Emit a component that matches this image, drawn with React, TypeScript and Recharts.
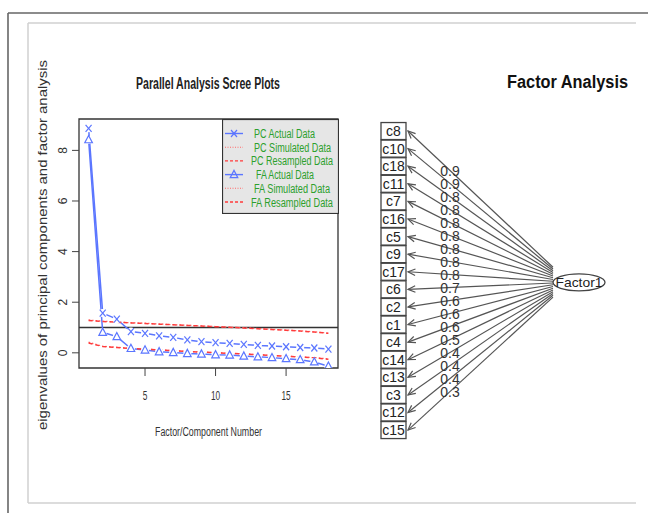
import React from 'react';
import {
  ComposedChart,
  Line,
  XAxis,
  YAxis,
  ReferenceLine,
  ReferenceArea,
  Legend,
  Scatter,
} from 'recharts';

// ---------- Scree plot data ----------
const factorNumbers = [1, 2, 3, 4, 5, 6, 7, 8, 9, 10, 11, 12, 13, 14, 15, 16, 17, 18];
const pcActual = [8.87, 1.57, 1.33, 0.84, 0.77, 0.67, 0.61, 0.51, 0.44, 0.4, 0.37, 0.33, 0.29, 0.27, 0.24, 0.21, 0.19, 0.15];
const pcSimulated = [1.3, 1.25, 1.22, 1.19, 1.17, 1.14, 1.11, 1.09, 1.06, 1.04, 1.01, 0.99, 0.96, 0.93, 0.9, 0.87, 0.83, 0.78];
const pcResampled = [1.28, 1.24, 1.21, 1.18, 1.16, 1.13, 1.11, 1.08, 1.06, 1.03, 1.01, 0.98, 0.95, 0.92, 0.89, 0.86, 0.82, 0.77];
const faActual = [8.42, 0.81, 0.64, 0.17, 0.11, 0.04, 0.01, -0.03, -0.05, -0.08, -0.09, -0.13, -0.16, -0.19, -0.23, -0.27, -0.36, -0.53];
const faSimulated = [0.42, 0.26, 0.22, 0.18, 0.15, 0.12, 0.09, 0.06, 0.03, 0.01, -0.02, -0.04, -0.07, -0.1, -0.13, -0.16, -0.19, -0.24];
const faResampled = [0.39, 0.25, 0.21, 0.17, 0.14, 0.11, 0.08, 0.05, 0.03, 0.0, -0.02, -0.05, -0.08, -0.11, -0.14, -0.17, -0.2, -0.25];
const xTicks = [5, 10, 15];
const yTicks = [0, 2, 4, 6, 8];
const legendLabels = [
  'PC  Actual Data',
  'PC  Simulated Data',
  'PC  Resampled Data',
  'FA  Actual Data',
  'FA  Simulated Data',
  'FA  Resampled Data',
];

// ---------- Factor diagram data ----------
const variables = ['c8', 'c10', 'c18', 'c11', 'c7', 'c16', 'c5', 'c9', 'c17', 'c6', 'c2', 'c1', 'c4', 'c14', 'c13', 'c3', 'c12', 'c15'];
const loadings = [0.9, 0.9, 0.8, 0.8, 0.8, 0.8, 0.8, 0.8, 0.8, 0.7, 0.6, 0.6, 0.6, 0.5, 0.4, 0.4, 0.4, 0.3];
const factorName = 'Factor1';

// ---------- styling / layout constants ----------
const BLUE = '#5b76ff';
const RED = '#ff3b3b';
const RED_DOT = '#ff6a6a';
const GREEN = '#2ca02c';
const FONT = '"Liberation Sans", Arial, Helvetica, sans-serif';

// diagram layout (diagram units)
const BOX_X = 33.5;
const BOX_TIP_X = 48;
const FACTOR_X = 219;
const FACTOR_EDGE_X = 193;
const FACTOR_Y = 8.6;
const FAN = 0.1;
const LABEL_T = 0.29;

const XTick = (props: any) => {
  const { x, y, payload } = props;
  const s = String(payload.value);
  return (
    <text x={x} y={y + 22} textAnchor="middle" fontSize={13.5} fill="#333" fontFamily={FONT}
      textLength={s.length * 4.6} lengthAdjust="spacingAndGlyphs">
      {s}
    </text>
  );
};

const YTick = (props: any) => {
  const { x, y, payload } = props;
  const tx = x - 3;
  return (
    <text x={tx} y={y} textAnchor="middle" fontSize={12} fill="#333" fontFamily={FONT}
      transform={`rotate(-90 ${tx} ${y})`}>
      {String(payload.value)}
    </text>
  );
};

const CrossMark = ({ cx, cy, color }: any) => (
  <g>
    <line x1={cx - 3} y1={cy - 3.5} x2={cx + 3} y2={cy + 3.5} stroke={color} strokeWidth={1.2} />
    <line x1={cx - 3} y1={cy + 3.5} x2={cx + 3} y2={cy - 3.5} stroke={color} strokeWidth={1.2} />
  </g>
);

const TriMark = ({ cx, cy, color }: any) => (
  <polygon points={`${cx},${cy - 4.2} ${cx - 3.8},${cy + 3} ${cx + 3.8},${cy + 3}`} fill="none" stroke={color} strokeWidth={1.2} />
);

const PcDot = (props: any) => {
  const { cx, cy, index } = props;
  if (cx == null || cy == null) return <g key={`pc-${index}`} />;
  return (
    <g key={`pc-${index}`}>
      <circle cx={cx} cy={cy} r={4} fill="#fff" stroke="none" />
      <CrossMark cx={cx} cy={cy} color={BLUE} />
    </g>
  );
};

const FaDot = (props: any) => {
  const { cx, cy, index } = props;
  if (cx == null || cy == null) return <g key={`fa-${index}`} />;
  return (
    <g key={`fa-${index}`}>
      <circle cx={cx} cy={cy} r={4} fill="#fff" stroke="none" />
      <TriMark cx={cx} cy={cy} color={BLUE} />
    </g>
  );
};

const legendStyles = [
  { color: BLUE, dash: undefined, mark: 'x', w: 1.4 },
  { color: RED_DOT, dash: '1 1.5', mark: null, w: 1.1 },
  { color: RED, dash: '3 2', mark: null, w: 1.3 },
  { color: BLUE, dash: undefined, mark: 't', w: 1.4 },
  { color: RED_DOT, dash: '1 1.5', mark: null, w: 1.1 },
  { color: RED, dash: '3 2', mark: null, w: 1.3 },
];
const legendTextX = [32, 32, 29, 34, 32, 29];
const legendTextW = [61, 77, 82, 58, 76, 82];

const LegendContent = () => (
  <svg width={117} height={95} style={{ display: 'block' }}>
    <rect x={0.5} y={0.5} width={116} height={94} fill="#e6e6e6" stroke="#333" strokeWidth={1.2} />
    {legendLabels.map((lab, i) => {
      const y = 14.5 + 13.7 * i;
      const st = legendStyles[i];
      return (
        <g key={lab}>
          <line x1={3} y1={y} x2={21} y2={y} stroke={st.color} strokeWidth={st.w} strokeDasharray={st.dash} />
          {st.mark === 'x' && <CrossMark cx={12} cy={y} color={st.color} />}
          {st.mark === 't' && <TriMark cx={12} cy={y} color={st.color} />}
          <text x={legendTextX[i]} y={y + 4.5} fontSize={12.5} fill={GREEN} fontFamily={FONT}
            textLength={legendTextW[i]} lengthAdjust="spacingAndGlyphs">
            {lab}
          </text>
        </g>
      );
    })}
  </svg>
);

const ArrowShape = (p: any) => {
  const { x1, y1, x2, y2 } = p;
  const ang = Math.atan2(y2 - y1, x2 - x1);
  const L = 8;
  const a = 0.42;
  const ax1 = x1 + L * Math.cos(ang + a);
  const ay1 = y1 + L * Math.sin(ang + a);
  const ax2 = x1 + L * Math.cos(ang - a);
  const ay2 = y1 + L * Math.sin(ang - a);
  return (
    <g>
      <line x1={x1} y1={y1} x2={x2} y2={y2} stroke="#555" strokeWidth={1.2} />
      <polyline points={`${ax1},${ay1} ${x1},${y1} ${ax2},${ay2}`} fill="none" stroke="#555" strokeWidth={1.2} />
    </g>
  );
};

const BoxShape = (p: any) => {
  const { cx, cy, payload } = p;
  return (
    <g>
      <rect x={cx - 12.5} y={cy - 8.5} width={25} height={17} fill="#fff" stroke="#444" strokeWidth={1.3} />
      <text x={cx} y={cy + 5} textAnchor="middle" fontSize={14} fill="#222" fontFamily={FONT}>
        {payload.name}
      </text>
    </g>
  );
};

const LabelShape = (p: any) => {
  const { cx, cy, payload } = p;
  return (
    <text x={cx} y={cy + 5} textAnchor="middle" fontSize={14} fill="#333" fontFamily={FONT}>
      {payload.label}
    </text>
  );
};

const FactorShape = (p: any) => {
  const { cx, cy, payload } = p;
  return (
    <g>
      <ellipse cx={cx} cy={cy} rx={26} ry={8.5} fill="#fff" stroke="#444" strokeWidth={1.3} />
      <text x={cx} y={cy + 5} textAnchor="middle" fontSize={13.5} fill="#222" fontFamily={FONT}
        textLength={47} lengthAdjust="spacingAndGlyphs">
        {payload.name}
      </text>
    </g>
  );
};

export default function App() {
  const rows = factorNumbers.map((n, i) => ({
    n,
    pcActual: pcActual[i],
    pcSimulated: pcSimulated[i],
    pcResampled: pcResampled[i],
    faActual: faActual[i],
    faSimulated: faSimulated[i],
    faResampled: faResampled[i],
  }));

  const boxes = variables.map((name, i) => ({ x: BOX_X, y: i, name }));
  const ends = variables.map((_, i) => FACTOR_Y + (i - FACTOR_Y) * FAN);
  const labels = variables.map((_, i) => ({
    x: BOX_TIP_X + LABEL_T * (FACTOR_EDGE_X - BOX_TIP_X),
    y: i + LABEL_T * (ends[i] - i),
    label: loadings[i].toFixed(1),
  }));
  const factor = [{ x: FACTOR_X, y: FACTOR_Y, name: factorName }];

  return (
    <div style={{ position: 'absolute', left: 0, top: 0, width: 648, height: 513, background: '#fff', fontFamily: FONT }}>
      <div style={{ position: 'absolute', left: 0, top: 0 }}>
        <ComposedChart width={360} height={470} data={rows} margin={{ top: 119, right: 22, bottom: 72, left: 39 }}>
          <XAxis dataKey="n" type="number" domain={[0.32, 18.68]} ticks={xTicks} allowDataOverflow
            axisLine={false} tickSize={8} tickLine={{ stroke: '#444' }} tick={XTick} height={30} />
          <YAxis type="number" domain={[-0.6, 9.24]} ticks={yTicks} allowDataOverflow
            axisLine={false} tickSize={7} tickLine={{ stroke: '#444' }} tick={YTick} width={40} />
          <ReferenceArea x1={0.32} x2={18.68} y1={-0.6} y2={9.24} fill="none" fillOpacity={0}
            stroke="#333" strokeWidth={1.3} ifOverflow="visible" />
          <ReferenceLine y={1} stroke="#333" strokeWidth={1.3} />
          <Line dataKey="pcActual" stroke={BLUE} strokeWidth={1.5} dot={PcDot} isAnimationActive={false} />
          <Line dataKey="faActual" stroke={BLUE} strokeWidth={1.5} dot={FaDot} isAnimationActive={false} />
          <Line dataKey="pcSimulated" stroke={RED_DOT} strokeWidth={1.2} strokeDasharray="1.5 2" dot={false} isAnimationActive={false} />
          <Line dataKey="pcResampled" stroke={RED} strokeWidth={1.5} strokeDasharray="4 3" dot={false} isAnimationActive={false} />
          <Line dataKey="faSimulated" stroke={RED_DOT} strokeWidth={1.2} strokeDasharray="1.5 2" dot={false} isAnimationActive={false} />
          <Line dataKey="faResampled" stroke={RED} strokeWidth={1.5} strokeDasharray="4 3" dot={false} isAnimationActive={false} />
          <Legend layout="vertical" align="center" verticalAlign="middle" content={LegendContent}
            wrapperStyle={{ left: 222, top: 119, width: 117, height: 95 }} />
        </ComposedChart>
      </div>

      <div style={{ position: 'absolute', left: 360, top: 0 }}>
        <ComposedChart width={288} height={470} margin={{ top: 0, right: 0, bottom: 0, left: 0 }}>
          <XAxis dataKey="x" type="number" domain={[0, 288]} allowDataOverflow hide />
          <YAxis type="number" domain={[-7.45, 19.27]} allowDataOverflow reversed hide />
          {variables.map((v, i) => (
            <ReferenceLine key={v}
              segment={[{ x: BOX_TIP_X, y: i }, { x: FACTOR_EDGE_X, y: ends[i] }]}
              shape={ArrowShape} ifOverflow="visible" />
          ))}
          <Scatter data={boxes} dataKey="y" shape={BoxShape} isAnimationActive={false} />
          <Scatter data={labels} dataKey="y" shape={LabelShape} isAnimationActive={false} />
          <Scatter data={factor} dataKey="y" shape={FactorShape} isAnimationActive={false} />
        </ComposedChart>
      </div>

      <svg width={648} height={513} style={{ position: 'absolute', left: 0, top: 0, pointerEvents: 'none' }}>
        <line x1={8} y1={13} x2={648} y2={13} stroke="#666" strokeWidth={1.6} />
        <line x1={8} y1={13} x2={8} y2={513} stroke="#666" strokeWidth={1.6} />
        <line x1={28} y1={23} x2={636} y2={23} stroke="#d0d0d0" strokeWidth={1.5} />
        <line x1={28} y1={23} x2={28} y2={503} stroke="#d0d0d0" strokeWidth={1.5} />
        <line x1={28} y1={503} x2={636} y2={503} stroke="#d0d0d0" strokeWidth={1.5} />
        <text x={208} y={89} textAnchor="middle" fontSize={16} fontWeight="bold" fill="#222" fontFamily={FONT}
          textLength={144} lengthAdjust="spacingAndGlyphs">
          Parallel Analysis Scree Plots
        </text>
        <text x={507} y={88} fontSize={18} fontWeight="bold" fill="#111" fontFamily={FONT}
          textLength={121} lengthAdjust="spacingAndGlyphs">
          Factor Analysis
        </text>
        <text x={208.5} y={436} textAnchor="middle" fontSize={12} fill="#333" fontFamily={FONT}
          textLength={107} lengthAdjust="spacingAndGlyphs">
          Factor/Component Number
        </text>
        <text x={47} y={245} textAnchor="middle" fontSize={13} fill="#333" fontFamily={FONT}
          transform="rotate(-90 47 245)" textLength={370} lengthAdjust="spacingAndGlyphs">
          eigenvalues of principal components and factor analysis
        </text>
      </svg>
    </div>
  );
}
